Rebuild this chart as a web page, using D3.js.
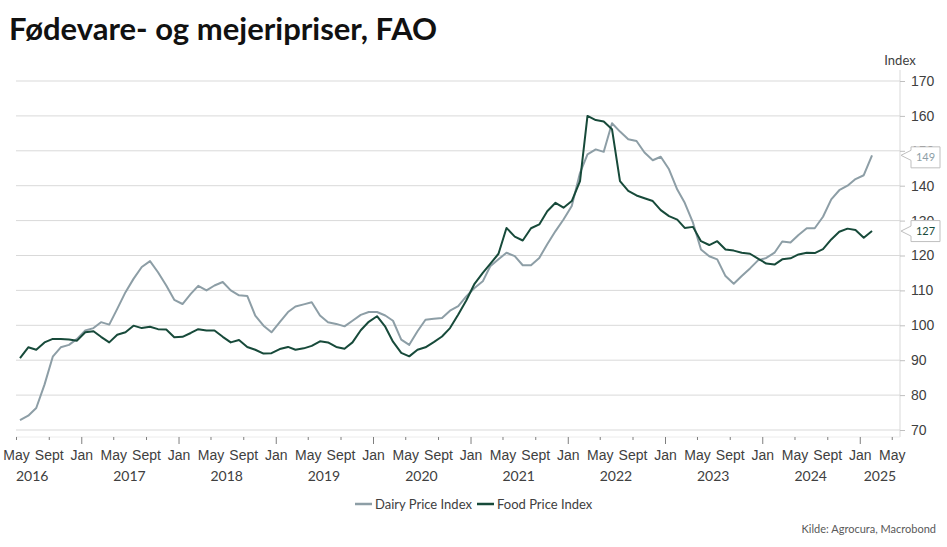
<!DOCTYPE html>
<html lang="da">
<head>
<meta charset="UTF-8">
<title>Fødevare- og mejeripriser, FAO</title>
<script src="https://cdn.jsdelivr.net/npm/d3@7"></script>
<style>
    body { margin: 0; background: #fff; }
    svg { display: block; font-family: Lato, "Open Sans", sans-serif; }
    .grid line { stroke: #d9d9d9; stroke-width: 1; }
    .axis text { fill: #404040; }
    .line { fill: none; stroke-width: 2; stroke-linejoin: round; }
</style>
</head>
<body>
<svg width="947" height="547"></svg>
<script>
    // monthly values, May 2016 .. Feb 2025
    var startMonth = [2016, 4];
    var dairy = [
        72.8, 74.1, 76.3, 83.0, 91.0, 93.7, 94.4, 96.1, 98.5, 99.2, 100.9, 100.2,
        104.7, 109.5, 113.3, 116.7, 118.4, 115.2, 111.4, 107.3, 106.1, 109.0, 111.3, 110.0,
        111.4, 112.4, 110.0, 108.6, 108.4, 102.8, 99.9, 98.0, 100.9, 103.8, 105.4, 106.0,
        106.6, 102.8, 100.9, 100.4, 99.7, 101.3, 103.0, 103.8, 103.8, 102.8, 101.3, 95.9,
        94.4, 98.3, 101.6, 101.9, 102.1, 104.2, 105.5, 108.3, 110.7, 112.6, 116.9, 118.9,
        120.8, 119.8, 117.2, 117.2, 119.3, 123.2, 127.0, 130.3, 134.2, 143.7, 149.0, 150.4,
        149.7, 157.9, 155.5, 153.3, 152.8, 149.5, 147.3, 148.3, 144.7, 138.9, 135.1, 129.4,
        121.7, 119.8, 118.9, 114.1, 111.9, 114.1, 116.3, 118.6, 119.3, 120.8, 124.0, 123.7,
        125.9, 127.8, 127.8, 131.1, 136.1, 138.7, 140.0, 141.9, 143.0, 148.7
    ];
    var food = [
        90.6, 93.7, 93.0, 95.1, 96.1, 96.1, 95.9, 95.6, 98.0, 98.3, 96.7, 95.1,
        97.3, 98.0, 99.9, 99.2, 99.6, 98.9, 98.8, 96.6, 96.7, 97.8, 98.9, 98.5,
        98.5, 96.7, 95.1, 95.8, 93.8, 93.0, 91.9, 92.0, 93.2, 93.8, 93.0, 93.4,
        94.1, 95.4, 95.1, 93.8, 93.3, 95.1, 98.6, 101.0, 102.6, 99.6, 95.3, 92.1,
        91.1, 93.0, 93.7, 95.2, 96.8, 99.2, 103.1, 107.1, 111.9, 115.0, 117.6, 120.5,
        127.9, 125.4, 124.3, 127.8, 128.9, 132.7, 135.1, 133.7, 135.6, 141.3, 160.0, 158.8,
        158.4, 156.2, 141.3, 138.5, 137.2, 136.4, 135.6, 133.0, 131.3, 130.3, 127.9, 128.2,
        124.1, 123.0, 124.1, 121.7, 121.4, 120.8, 120.5, 119.1, 117.7, 117.4, 118.9, 119.2,
        120.3, 120.8, 120.7, 121.8, 124.6, 126.8, 127.7, 127.3, 125.1, 127.0
    ];
    var seriesNames = ["Dairy Price Index", "Food Price Index"];
    var seriesColors = ["#8d9ea6", "#174a3a"];
    var monthLabels = { 0: "Jan", 4: "May", 8: "Sept" };
    var years = [2016, 2017, 2018, 2019, 2020, 2021, 2022, 2023, 2024, 2025];
    var yTicks = [70, 80, 90, 100, 110, 120, 130, 140, 150, 160, 170];

    var svg = d3.select("svg");
    var plotLeft = 16, plotRight = 900, plotTop = 81, plotBottom = 430, axisY = 437;

    var dates = dairy.map(function (d, i) {
        return new Date(startMonth[0], startMonth[1] + i, 16);
    });
    var series = [dairy, food].map(function (vals, k) {
        return {
            name: seriesNames[k],
            color: seriesColors[k],
            values: vals.map(function (v, i) { return { date: dates[i], value: v }; })
        };
    });

    var x = d3.scaleTime()
        .domain([new Date(2016, 4, 1), new Date(2025, 5, 1)])
        .range([plotLeft, plotRight]);
    var y = d3.scaleLinear().domain([70, 170]).range([plotBottom, plotTop]);

    // title
    svg.append("text")
        .attr("x", 9).attr("y", 40)
        .style("font-size", "31px").style("font-weight", "bold").style("fill", "#111")
        .text("Fødevare- og mejeripriser, FAO");

    // gridlines
    svg.append("g").attr("class", "grid")
        .selectAll("line").data(yTicks).enter().append("line")
        .attr("x1", plotLeft).attr("x2", plotRight)
        .attr("y1", function (d) { return y(d); })
        .attr("y2", function (d) { return y(d); });

    // right axis
    svg.append("line")
        .attr("x1", plotRight).attr("x2", plotRight).attr("y1", 70).attr("y2", axisY)
        .style("stroke", "#d9d9d9");
    var yAxis = svg.append("g")
        .attr("class", "axis")
        .attr("transform", "translate(" + plotRight + ",0)")
        .call(d3.axisRight(y).tickValues(yTicks).tickSize(5).tickPadding(6));
    yAxis.select(".domain").remove();
    yAxis.selectAll(".tick line").style("stroke", "#bfbfbf");
    yAxis.selectAll("text").style("font-size", "14px").style("fill", "#404040");

    svg.append("text")
        .attr("x", 900).attr("y", 65)
        .attr("text-anchor", "middle")
        .style("font-size", "13px").style("fill", "#404040")
        .text("Index");

    // bottom axis
    svg.append("line")
        .attr("x1", plotLeft).attr("x2", plotRight).attr("y1", axisY).attr("y2", axisY)
        .style("stroke", "#ececec");
    var xTicks = d3.timeMonth.every(4).range(new Date(2016, 4, 1), new Date(2025, 5, 1));
    var xAxis = svg.append("g")
        .attr("class", "axis")
        .attr("transform", "translate(0," + axisY + ")")
        .call(d3.axisBottom(x).tickValues(xTicks).tickSize(0).tickPadding(13)
            .tickFormat(function (d) { return monthLabels[d.getMonth()]; }));
    xAxis.select(".domain").remove();
    xAxis.selectAll(".tick line")
        .attr("y2", function (d) { return d.getMonth() === 0 ? 7 : 3; })
        .style("stroke", "#7f7f7f");
    xAxis.selectAll("text").style("font-size", "14px").style("fill", "#404040");

    svg.append("g").selectAll("text").data(years).enter().append("text")
        .attr("x", function (yr) {
            var mid = new Date(yr, 6, 1);
            if (mid > x.domain()[1]) return (x(new Date(yr, 0, 1)) + plotRight) / 2;
            return x(mid);
        })
        .attr("y", 481)
        .attr("text-anchor", "middle")
        .style("font-size", "14px").style("fill", "#404040")
        .text(function (yr) { return yr; });

    // lines
    var line = d3.line()
        .x(function (d) { return x(d.date); })
        .y(function (d) { return y(d.value); });
    svg.append("g").selectAll("path").data(series).enter().append("path")
        .attr("class", "line")
        .style("stroke", function (d) { return d.color; })
        .attr("d", function (d) { return line(d.values); });

    // end value callouts
    var callDy = [2, 0];
    series.forEach(function (s, k) {
        var last = s.values[s.values.length - 1];
        var vy = y(last.value);
        var cy = vy + callDy[k];
        var bx = plotRight + 11, bw = 29, bh = 21;
        var t = cy - bh / 2, b = cy + bh / 2;
        svg.append("path")
            .attr("d", "M" + (plotRight + 1) + "," + vy + "L" + bx + "," + (vy - 5) + "L" + bx + "," + t +
                "L" + (bx + bw) + "," + t + "L" + (bx + bw) + "," + b + "L" + bx + "," + b +
                "L" + bx + "," + (vy + 5) + "Z")
            .style("fill", "#fff").style("stroke", "#bfbfbf");
        svg.append("text")
            .attr("x", bx + bw / 2).attr("y", cy + 4)
            .attr("text-anchor", "middle")
            .style("font-size", "11px").style("fill", s.color)
            .text(Math.round(last.value));
    });

    // legend
    var legendX = [355, 477];
    var legend = svg.append("g").selectAll("g").data(series).enter().append("g")
        .attr("transform", function (d, i) { return "translate(" + legendX[i] + ",504)"; });
    legend.append("line")
        .attr("x1", 0).attr("x2", 17)
        .style("stroke", function (d) { return d.color; }).style("stroke-width", 2.5);
    legend.append("text")
        .attr("x", 20).attr("y", 5)
        .style("font-size", "13px").style("fill", "#404040")
        .text(function (d) { return d.name; });

    // source
    svg.append("text")
        .attr("x", 936).attr("y", 533)
        .attr("text-anchor", "end")
        .style("font-size", "11px").style("fill", "#595959")
        .text("Kilde: Agrocura, Macrobond");
</script>
</body>
</html>
